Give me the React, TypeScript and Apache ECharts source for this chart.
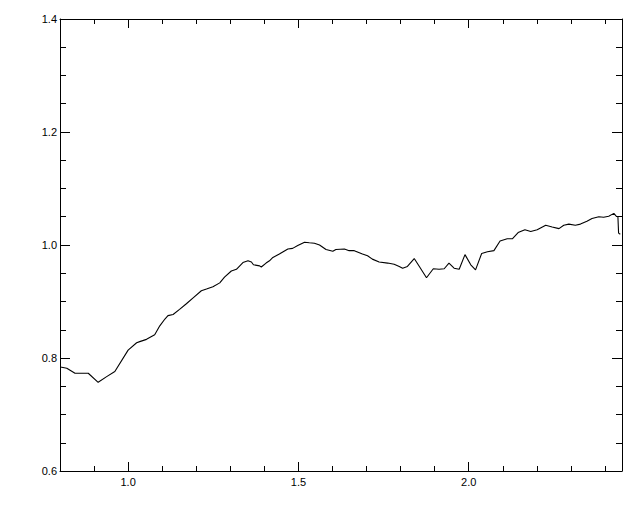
import React, { useEffect, useRef } from "react";
import * as echarts from "echarts";

const xValues = [
  0.800, 0.805, 0.820, 0.844, 0.883, 0.912, 0.937, 0.961, 1.000, 1.025,
  1.034, 1.054, 1.078, 1.093, 1.108, 1.117, 1.132, 1.151, 1.171, 1.190,
  1.215, 1.230, 1.249, 1.269, 1.283, 1.303, 1.318, 1.337, 1.352, 1.362,
  1.368, 1.386, 1.391, 1.405, 1.415, 1.425, 1.444, 1.469, 1.483, 1.498,
  1.518, 1.532, 1.547, 1.562, 1.581, 1.601, 1.610, 1.635, 1.649, 1.664,
  1.688, 1.703, 1.717, 1.737, 1.762, 1.781, 1.796, 1.806, 1.820, 1.840,
  1.856, 1.876, 1.896, 1.913, 1.928, 1.942, 1.957, 1.972, 1.989, 2.006,
  2.020, 2.038, 2.055, 2.074, 2.092, 2.113, 2.128, 2.145, 2.165, 2.182,
  2.201, 2.226, 2.245, 2.265, 2.279, 2.294, 2.313, 2.328, 2.347, 2.362,
  2.382, 2.396, 2.411, 2.426, 2.433, 2.438, 2.440, 2.445,
];

const yValues = [
  0.784, 0.7835, 0.782, 0.773, 0.773, 0.757, 0.767, 0.776, 0.814, 0.827,
  0.829, 0.833, 0.841, 0.857, 0.869, 0.875, 0.877, 0.886, 0.896, 0.906,
  0.919, 0.922, 0.926, 0.933, 0.943, 0.954, 0.957, 0.969, 0.972, 0.970,
  0.965, 0.963, 0.961, 0.968, 0.972, 0.978, 0.984, 0.993, 0.994, 0.999,
  1.005, 1.004, 1.003, 1.000, 0.992, 0.989, 0.992, 0.993, 0.990, 0.990,
  0.984, 0.981, 0.975, 0.970, 0.968, 0.966, 0.962, 0.959, 0.962, 0.976,
  0.961, 0.942, 0.958, 0.957, 0.958, 0.968, 0.959, 0.957, 0.983, 0.965,
  0.956, 0.985, 0.988, 0.990, 1.007, 1.011, 1.011, 1.022, 1.027, 1.024,
  1.027, 1.035, 1.032, 1.029, 1.035, 1.037, 1.035, 1.037, 1.042, 1.047,
  1.050, 1.049, 1.051, 1.056, 1.051, 1.050, 1.021, 1.019,
];

const xMajorTicks = [1.0, 1.5, 2.0];
const xMinorTicks = [0.9, 1.1, 1.2, 1.3, 1.4, 1.6, 1.7, 1.8, 1.9, 2.1, 2.2, 2.3, 2.4];
const yMajorTicks = [0.6, 0.8, 1.0, 1.2, 1.4];
const yMinorTicks = [0.65, 0.7, 0.75, 0.85, 0.9, 0.95, 1.05, 1.1, 1.15, 1.25, 1.3, 1.35];

const X_MIN = 0.8;
const X_MAX = 2.45;
const Y_MIN = 0.6;
const Y_MAX = 1.4;

const FONT = "Liberation Sans";

function xAxisDef(position: "top" | "bottom", ticks: number[], len: number, labels: boolean, showLine: boolean) {
  return {
    type: "value",
    position,
    min: X_MIN,
    max: X_MAX,
    splitLine: { show: false },
    axisLine: { show: showLine, onZero: false, lineStyle: { color: "#000", width: 1 } },
    axisTick: { show: true, inside: true, length: len, customValues: ticks, lineStyle: { color: "#000", width: 1 } },
    axisLabel: labels
      ? {
          show: true,
          customValues: xMajorTicks,
          margin: 5,
          color: "#000",
          fontSize: 11,
          fontFamily: FONT,
          formatter: (v: number) => v.toFixed(1),
        }
      : { show: false },
  };
}

function yAxisDef(position: "left" | "right", ticks: number[], len: number, labels: boolean, showLine: boolean) {
  return {
    type: "value",
    position,
    min: Y_MIN,
    max: Y_MAX,
    splitLine: { show: false },
    axisLine: { show: showLine, onZero: false, lineStyle: { color: "#000", width: 1 } },
    axisTick: { show: true, inside: true, length: len, customValues: ticks, lineStyle: { color: "#000", width: 1 } },
    axisLabel: labels
      ? {
          show: true,
          customValues: yMajorTicks,
          margin: 3,
          color: "#000",
          fontSize: 11,
          fontFamily: FONT,
          formatter: (v: number) => v.toFixed(1),
        }
      : { show: false },
  };
}

export default function App() {
  const ref = useRef<HTMLDivElement>(null);

  useEffect(() => {
    if (!ref.current) return;
    const chart = echarts.init(ref.current, undefined, { renderer: "svg" });
    const data = xValues.map((x, i) => [x, yValues[i]]);
    chart.setOption({
      animation: false,
      backgroundColor: "#fff",
      grid: { left: 60, right: 18, top: 19, bottom: 41, containLabel: false },
      xAxis: [
        xAxisDef("bottom", xMajorTicks, 9, true, true),
        xAxisDef("bottom", xMinorTicks, 5, false, false),
        xAxisDef("top", xMajorTicks, 9, false, true),
        xAxisDef("top", xMinorTicks, 5, false, false),
      ],
      yAxis: [
        yAxisDef("left", yMajorTicks, 10, true, true),
        yAxisDef("left", yMinorTicks, 6, false, false),
        yAxisDef("right", yMajorTicks, 10, false, true),
        yAxisDef("right", yMinorTicks, 6, false, false),
      ],
      series: [
        {
          type: "line",
          xAxisIndex: 0,
          yAxisIndex: 0,
          data,
          showSymbol: false,
          symbol: "none",
          lineStyle: { color: "#000", width: 1.1 },
        },
      ],
    });
    return () => chart.dispose();
  }, []);

  return (
    <div
      ref={ref}
      style={{ position: "fixed", left: 0, top: 0, width: 640, height: 512, background: "#fff" }}
    />
  );
}
